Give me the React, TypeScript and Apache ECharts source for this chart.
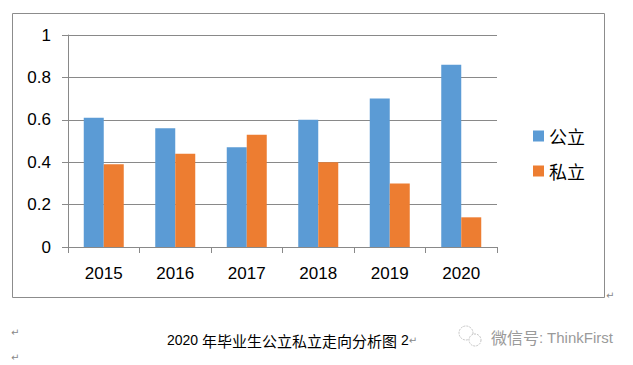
import React, { useEffect, useRef } from "react";
import * as echarts from "echarts";

const categories = ["2015", "2016", "2017", "2018", "2019", "2020"];
const publicValues = [0.61, 0.56, 0.47, 0.6, 0.7, 0.86];
const privateValues = [0.39, 0.44, 0.53, 0.4, 0.3, 0.14];
const seriesNames = ["公立", "私立"];
const captionYear = "2020";
const captionBody = "年毕业生公立私立走向分析图";
const captionNumber = "2";
const watermarkCn = "微信号";
const watermarkEn = ": ThinkFirst";

export default function App() {
  const ref = useRef<HTMLDivElement>(null);
  useEffect(() => {
    document.body.style.margin = "0";
    const chart = echarts.init(ref.current!, null, { renderer: "svg" });
    const gray = "#898989";
    chart.setOption({
      animation: false,
      backgroundColor: "#ffffff",
      grid: { left: 68, top: 35, right: 136, bottom: 118, containLabel: false },
      legend: {
        orient: "vertical",
        left: 528,
        top: 121,
        icon: "rect",
        itemWidth: 11,
        itemHeight: 11,
        itemGap: 15,
        textStyle: { fontSize: 18, lineHeight: 20, color: "#000", fontFamily: "Noto Sans CJK SC" },
        data: seriesNames,
      },
      xAxis: {
        type: "category",
        data: categories,
        axisLine: { show: true, lineStyle: { color: gray, width: 1 } },
        axisTick: { show: true, alignWithLabel: false, length: 6, lineStyle: { color: gray } },
        axisLabel: { color: "#000", fontSize: 17, fontFamily: "Liberation Sans", margin: 18 },
        splitLine: { show: false },
      },
      yAxis: {
        type: "value",
        min: 0,
        max: 1,
        interval: 0.2,
        axisLine: { show: true, lineStyle: { color: gray, width: 1 } },
        axisTick: { show: true, length: 6, lineStyle: { color: gray } },
        axisLabel: { color: "#000", fontSize: 17, fontFamily: "Liberation Sans", margin: 17 },
        splitLine: { show: true, lineStyle: { color: gray, width: 1 } },
      },
      series: [
        {
          name: seriesNames[0],
          type: "bar",
          data: publicValues,
          barWidth: 20,
          barGap: "0%",
          itemStyle: { color: "#5B9BD5" },
        },
        {
          name: seriesNames[1],
          type: "bar",
          data: privateValues,
          barWidth: 20,
          barGap: "0%",
          itemStyle: { color: "#ED7D31" },
        },
      ],
      graphic: [
        {
          type: "rect",
          shape: { x: 12.5, y: 13.5, width: 592, height: 284 },
          style: { fill: "none", stroke: "#8c8c8c", lineWidth: 1 },
          silent: true,
        },
        {
          type: "text",
          x: 606,
          y: 290,
          style: { text: "↵", fontSize: 10, fill: "#888", fontFamily: "DejaVu Sans" },
        },
        {
          type: "text",
          x: 11,
          y: 327,
          style: { text: "↵", fontSize: 10, fill: "#888", fontFamily: "DejaVu Sans" },
        },
        {
          type: "text",
          x: 11,
          y: 352,
          style: { text: "↵", fontSize: 10, fill: "#888", fontFamily: "DejaVu Sans" },
        },
        {
          type: "text",
          x: 167,
          y: 340,
          style: {
            text:
              "{a|" + captionYear + " }{b|" + captionBody + "}{a| " + captionNumber + "}{c|↵}",
            verticalAlign: "middle",
            rich: {
              a: { fontSize: 14, fill: "#000", fontFamily: "Liberation Sans Narrow, Liberation Sans" },
              b: { fontSize: 15, fill: "#000", fontFamily: "Noto Sans CJK SC" },
              c: { fontSize: 10, fill: "#888", fontFamily: "DejaVu Sans" },
            },
          },
        },
        {
          type: "circle",
          shape: { cx: 466, cy: 333, r: 7 },
          style: { fill: "none", stroke: "#c4c4c4", lineWidth: 1, lineDash: [2, 1] },
        },
        {
          type: "circle",
          shape: { cx: 475, cy: 340, r: 6 },
          style: { fill: "#fff", stroke: "#c4c4c4", lineWidth: 1, lineDash: [2, 1] },
        },
        {
          type: "text",
          x: 491,
          y: 337,
          style: {
            text: "{b|" + watermarkCn + "}{a|" + watermarkEn + "}",
            verticalAlign: "middle",
            rich: {
              a: { fontSize: 15, fill: "#9a9a9a", fontFamily: "Liberation Sans" },
              b: { fontSize: 16, fill: "#9a9a9a", fontFamily: "Noto Sans CJK SC" },
            },
          },
        },
      ],
    });
    return () => chart.dispose();
  }, []);
  return <div ref={ref} style={{ width: 633, height: 365 }} />;
}
